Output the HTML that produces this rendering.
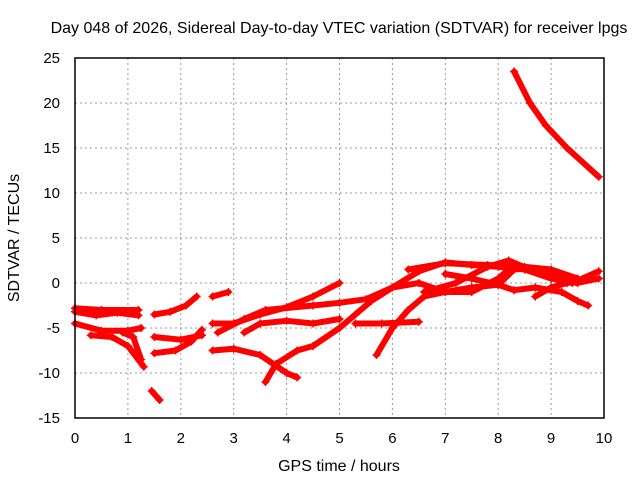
<!DOCTYPE html>
<html><head><meta charset="utf-8"><style>
body{margin:0;background:#fff;width:640px;height:480px;overflow:hidden}
text{font-family:"Liberation Sans",sans-serif;font-size:15px;fill:#000}
.big{font-size:16px}
</style></head><body>
<svg id="chart" width="640" height="480">
<text class="big" x="339" y="33" text-anchor="middle">Day 048 of 2026, Sidereal Day-to-day VTEC variation (SDTVAR) for receiver lpgs</text>
<text class="big" x="339" y="471" text-anchor="middle">GPS time / hours</text>
<text class="big" transform="translate(19,238) rotate(-90)" text-anchor="middle">SDTVAR / TECUs</text>
<g id="grid"></g><g id="tracks"></g>
<rect x="75" y="58" width="529" height="360" fill="none" stroke="#000" stroke-width="1.5"/>
</svg>
<script>
const xTicks=[0,1,2,3,4,5,6,7,8,9,10];
const yTicks=[25,20,15,10,5,0,-5,-10,-15];
const tracks=[
[[8.3,23.5],[8.6,20],[8.9,17.5],[9.3,15],[9.9,11.8]],
[[0,-2.8],[0.5,-3],[1.2,-3]],
[[0,-3.2],[0.4,-3.6],[0.8,-3.3],[1.2,-3.6]],
[[0,-4.5],[0.5,-5.3],[1.0,-5.3],[1.25,-5]],
[[0.3,-5.8],[0.7,-6],[1.0,-7],[1.3,-9.3]],
[[0.9,-5.5],[1.1,-6],[1.25,-8.5]],
[[1.45,-12],[1.6,-13]],
[[1.5,-3.5],[1.8,-3.2],[2.1,-2.5],[2.3,-1.5]],
[[1.5,-6],[2.0,-6.3],[2.4,-5.8]],
[[1.5,-7.8],[1.9,-7.5],[2.2,-6.5],[2.4,-5.2]],
[[2.6,-1.5],[2.9,-1]],
[[2.6,-4.5],[3.0,-4.5],[3.5,-3.5],[4.0,-2.7],[4.5,-1.5],[5.0,0]],
[[2.7,-5.5],[3.2,-4],[3.6,-3],[4.5,-2.5],[5.0,-2.2],[5.5,-1.8],[6.0,-0.5],[6.5,1.3],[7,2.3],[7.5,2],[8,1.8],[8.5,1.5],[9,0.5],[9.5,0],[9.9,0.5]],
[[2.6,-7.5],[3,-7.3],[3.5,-8],[4,-10],[4.2,-10.5]],
[[3.6,-11],[3.8,-9],[4.2,-7.5],[4.5,-7],[5,-5],[5.3,-3.5],[5.6,-2],[6,-0.5],[6.5,0],[7,-1],[7.5,-1],[8,0.5],[8.3,2]],
[[3.2,-5.5],[3.5,-4.5],[4,-4.2],[4.5,-4.5],[5,-4]],
[[5.3,-4.5],[5.8,-4.5],[6.5,-4.3]],
[[5.7,-8],[6,-5],[6.3,-3],[6.6,-1.5],[7,-1],[7.5,-0.5],[8,-0.2],[8.3,1.5],[8.5,1.6]],
[[7,1],[7.5,0.5],[8,-0.2],[8.3,-0.8],[8.7,-0.5],[9.2,-1],[9.5,-2],[9.7,-2.5]],
[[6.6,-1],[7.2,0],[7.8,1.8],[8.2,2.5],[8.6,1.5],[9,1],[9.4,0],[9.9,1.3]],
[[8.7,-1.5],[9,-0.5],[9.3,0],[9.9,0.5]],
[[6.3,1.5],[7,2.2],[7.8,2],[8.5,1.8],[9,1.5],[9.5,0.5]]
];
const X=v=>75+v*52.9, Y=v=>283-v*9;
const NS="http://www.w3.org/2000/svg";
const g=document.getElementById('grid'), tg=document.getElementById('tracks');
function mk(tag,at,p){const e=document.createElementNS(NS,tag);for(const k in at)e.setAttribute(k,at[k]);p.appendChild(e);return e;}
xTicks.forEach(t=>{
 if(t>0&&t<10){const l=mk('line',{x1:X(t),x2:X(t),y1:58,y2:418,stroke:'#999','stroke-dasharray':'2,3'},g);
 
 }
 const tx=mk('text',{x:X(t),y:443,'text-anchor':'middle'},g);tx.textContent=t;
 
 
});
yTicks.forEach(t=>{
 if(t<25&&t>-15){const l=mk('line',{x1:75,x2:604,y1:Y(t),y2:Y(t),stroke:'#999','stroke-dasharray':'2,3'},g);
 
 }
 const tx=mk('text',{x:60,y:Y(t)+5,'text-anchor':'end'},g);tx.textContent=t;
 
 
});
tracks.forEach(tr=>{
 const pl=mk('polyline',{points:tr.map(p=>X(p[0])+','+Y(p[1])).join(' '),fill:'none',stroke:'#f00','stroke-width':6,'stroke-linejoin':'round','stroke-linecap':'round'},tg);
 
 
 tr.forEach(p=>{const x=X(p[0]),y=Y(p[1]);
  const m=mk('path',{d:`M${x-4},${y}h8M${x},${y-4}v8`,stroke:'#f00','stroke-width':1.5},tg);
  
  });
});
</script>
</body></html>
